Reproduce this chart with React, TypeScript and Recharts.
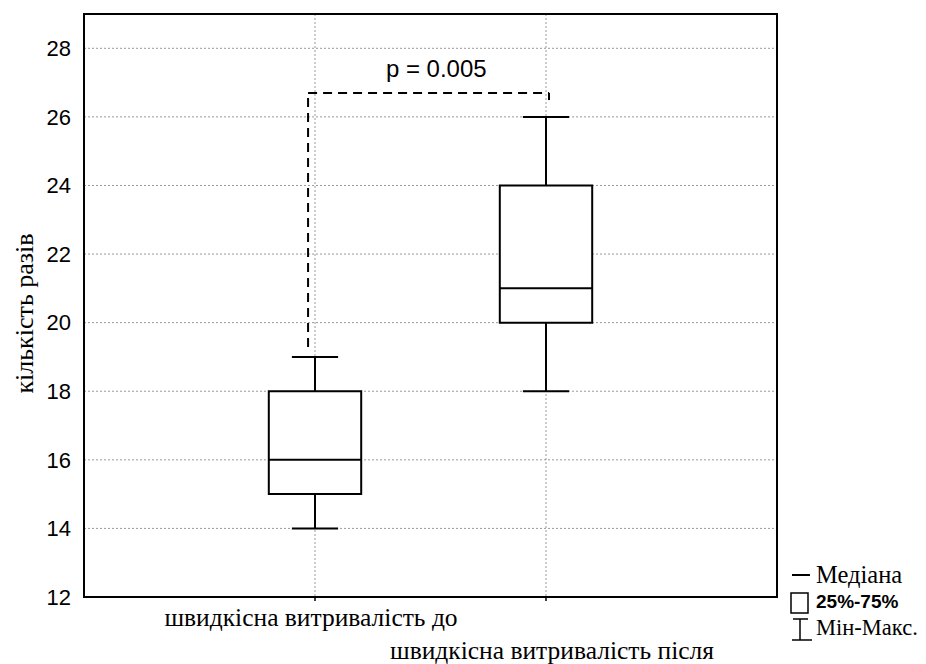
import {
  ComposedChart,
  XAxis,
  YAxis,
  CartesianGrid,
  ReferenceArea,
  ReferenceLine,
  ReferenceDot,
  Scatter,
  Legend,
} from "recharts";

const categories = ["швидкісна витривалість до", "швидкісна витривалість після"];
const positions = [1, 2];
const minValues = [14, 18];
const q1Values = [15, 20];
const medianValues = [16, 21];
const q3Values = [18, 24];
const maxValues = [19, 26];
const yTicks = [12, 14, 16, 18, 20, 22, 24, 26, 28];
const xDomain = [0, 3];
const yDomain = [12, 29];
const pValueLabel = "p = 0.005";
const pValuePos = { x: 1.525, y: 27.41 };
// bracket: left foot, top level, right foot
const bracketLevels = [19.29, 26.7, 26.49];
const bracketEnds = [0.97, 2.013];
const legendLabels = ["Медіана", "25%-75%", "Мін-Макс."];

const rows = categories.map((name, i) => ({
  name,
  x: positions[i],
  min: minValues[i],
  q1: q1Values[i],
  median: medianValues[i],
  q3: q3Values[i],
  max: maxValues[i],
}));

const BOX_HALF = 0.2;
const CAP_HALF = 0.1;
const SERIF = "'Liberation Serif', 'Times New Roman', serif";
const SANS = "'Liberation Sans', Arial, sans-serif";

function CategoryTick({ x, y, payload }: any) {
  const i = positions.indexOf(payload.value);
  if (i < 0) return null;
  const dy = i === 0 ? 23 : 56;
  const dx = i === 0 ? -4 : 6;
  return (
    <text x={x + dx} y={y + dy} textAnchor="middle" fontFamily={SERIF} fontSize={25.5} fill="#000">
      {categories[i]}
    </text>
  );
}

function YTitle({ viewBox }: any) {
  const cx = viewBox.x + 24;
  const cy = viewBox.y + viewBox.height / 2 + 8;
  return (
    <text
      x={cx}
      y={cy}
      transform={`rotate(-90, ${cx}, ${cy})`}
      textAnchor="middle"
      dominantBaseline="central"
      fontFamily={SERIF}
      fontSize={26}
      fill="#000"
    >
      кількість разів
    </text>
  );
}

function BoxLegend() {
  return (
    <svg width={140} height={90}>
      <line x1={6} x2={24} y1={15} y2={15} stroke="#000" strokeWidth={2} />
      <text x={30} y={23} fontFamily={SERIF} fontSize={24.5} fill="#000">
        {legendLabels[0]}
      </text>
      <rect x={5} y={33} width={17} height={20} fill="none" stroke="#000" strokeWidth={1.5} />
      <text x={30} y={48} fontFamily={SANS} fontWeight="bold" fontSize={19} fill="#000">
        {legendLabels[1]}
      </text>
      <line x1={7} x2={22} y1={59} y2={59} stroke="#000" strokeWidth={1.5} />
      <line x1={14} x2={14} y1={59} y2={80} stroke="#000" strokeWidth={1.5} />
      <line x1={6} x2={26} y1={80} y2={80} stroke="#000" strokeWidth={1.5} />
      <text x={30} y={75} fontFamily={SERIF} fontSize={22.5} fill="#000">
        {legendLabels[2]}
      </text>
    </svg>
  );
}

const line = { stroke: "#000", strokeWidth: 2 };
const dashed = { stroke: "#000", strokeWidth: 2, strokeDasharray: "9 6" };

export default function App() {
  return (
    <div style={{ position: "absolute", left: 0, top: 0, background: "#fff" }}>
      <ComposedChart
        width={926}
        height={664}
        data={rows}
        margin={{ top: 14, right: 149, bottom: 0, left: 0 }}
      >
        <CartesianGrid stroke="#9a9a9a" strokeDasharray="2 2" />
        <XAxis
          dataKey="x"
          type="number"
          domain={xDomain}
          ticks={positions}
          height={67}
          axisLine={false}
          tickLine={{ stroke: "#000", strokeWidth: 1.5 }}
          tickSize={4}
          tickMargin={2}
          tick={<CategoryTick />}
          interval={0}
        />
        <YAxis
          type="number"
          domain={yDomain}
          ticks={yTicks}
          width={84}
          axisLine={false}
          tickLine={false}
          tickSize={0}
          tickMargin={13}
          tick={{ fontSize: 22, fill: "#000", fontFamily: SANS }}
          label={<YTitle />}
        />

        {/* plot frame */}
        <ReferenceArea
          x1={xDomain[0]}
          x2={xDomain[1]}
          y1={yDomain[0]}
          y2={yDomain[1]}
          fill="none"
          stroke="#000"
          strokeWidth={2}
          ifOverflow="visible"
        />

        {rows.map((r) => (
          <ReferenceLine key={`wl-${r.x}`} segment={[{ x: r.x, y: r.min }, { x: r.x, y: r.q1 }]} {...line} />
        ))}
        {rows.map((r) => (
          <ReferenceLine key={`wh-${r.x}`} segment={[{ x: r.x, y: r.q3 }, { x: r.x, y: r.max }]} {...line} />
        ))}
        {rows.map((r) => (
          <ReferenceLine
            key={`cl-${r.x}`}
            segment={[{ x: r.x - CAP_HALF, y: r.min }, { x: r.x + CAP_HALF, y: r.min }]}
            {...line}
          />
        ))}
        {rows.map((r) => (
          <ReferenceLine
            key={`ch-${r.x}`}
            segment={[{ x: r.x - CAP_HALF, y: r.max }, { x: r.x + CAP_HALF, y: r.max }]}
            {...line}
          />
        ))}
        {rows.map((r) => (
          <ReferenceArea
            key={`box-${r.x}`}
            x1={r.x - BOX_HALF}
            x2={r.x + BOX_HALF}
            y1={r.q1}
            y2={r.q3}
            fill="#fff"
            fillOpacity={1}
            stroke="#000"
            strokeWidth={2}
          />
        ))}
        {rows.map((r) => (
          <ReferenceLine
            key={`md-${r.x}`}
            segment={[{ x: r.x - BOX_HALF, y: r.median }, { x: r.x + BOX_HALF, y: r.median }]}
            {...line}
          />
        ))}

        <ReferenceLine
          segment={[{ x: bracketEnds[0], y: bracketLevels[0] }, { x: bracketEnds[0], y: bracketLevels[1] }]}
          {...dashed}
        />
        <ReferenceLine
          segment={[{ x: bracketEnds[0], y: bracketLevels[1] }, { x: bracketEnds[1], y: bracketLevels[1] }]}
          {...dashed}
        />
        <ReferenceLine
          segment={[{ x: bracketEnds[1], y: bracketLevels[1] }, { x: bracketEnds[1], y: bracketLevels[2] }]}
          {...dashed}
        />
        <ReferenceDot
          x={pValuePos.x}
          y={pValuePos.y}
          r={0}
          fill="none"
          stroke="none"
          label={{ value: pValueLabel, position: "center", fontSize: 24, fill: "#000", fontFamily: SANS }}
        />

        <Scatter dataKey="median" isAnimationActive={false} shape={() => <g />} legendType="none" />
        <Legend
          layout="horizontal"
          verticalAlign="middle"
          align="center"
          content={() => <BoxLegend />}
          wrapperStyle={{ left: 786, top: 560, width: 140, height: 90 }}
        />
      </ComposedChart>
    </div>
  );
}
